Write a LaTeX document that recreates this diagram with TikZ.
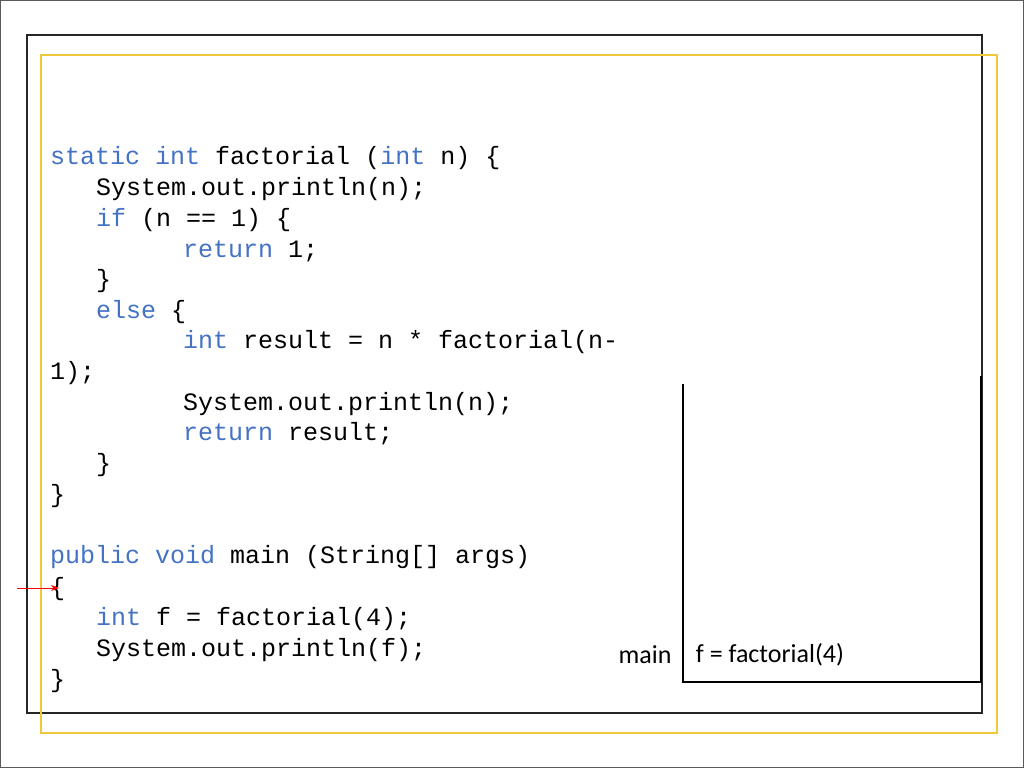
\documentclass[tikz,border=0pt]{standalone}
\usepackage{fontspec}
\setmonofont{Liberation Mono}
\newfontfamily\carlitofont{Carlito}
\usetikzlibrary{arrows.meta}
\definecolor{kw}{RGB}{68,114,196}
\definecolor{yel}{RGB}{240,200,60}
\begin{document}
\begin{tikzpicture}[x=1pt,y=-1pt,
  code/.style={anchor=west,inner sep=0pt,font=\ttfamily\fontsize{25}{30}\selectfont},
  lab/.style={anchor=center,inner sep=0pt,font=\carlitofont\fontsize{26}{30}\selectfont}]
\useasboundingbox (0,0) rectangle (1024,768);
\draw[gray!70!black,line width=1pt] (0.5,0.5) rectangle (1023.5,767.5);
\draw[black!85,line width=1.5pt] (27,35) rectangle (982,713);
\draw[yel,line width=1.5pt] (41,55) rectangle (997,733);
\newcommand\Kw[1]{\textcolor{kw}{#1}}
\node[code] (l1) at (50,158) {\Kw{static} \Kw{int} factorial (\Kw{int} n) \{};
\node[code] (l2) at (96,189) {System.out.println(n);};
\node[code] (l3) at (96,220) {\Kw{if} (n == 1) \{};
\node[code] (l4) at (183,251) {\Kw{return} 1;};
\node[code] (l5) at (96,281) {\}};
\node[code] (l6) at (96,312) {\Kw{else} \{};
\node[code] (l7) at (183,342) {\Kw{int} result = n * factorial(n-};
\node[code] (l8) at (50,373) {1);};
\node[code] (l9) at (183,404) {System.out.println(n);};
\node[code] (l10) at (183,434) {\Kw{return} result;};
\node[code] (l11) at (96,465) {\}};
\node[code] (l12) at (50,496) {\}};
\node[code] (l13) at (50,557) {\Kw{public} \Kw{void} main (String[] args)};
\node[code] (l14) at (50,589) {\{};
\node[code] (l15) at (96,619) {\Kw{int} f = factorial(4);};
\node[code] (l16) at (96,650) {System.out.println(f);};
\node[code] (l17) at (50,681) {\}};
\coordinate (a0) at (17,588);
\coordinate (a1) at (59,588);
\draw[red,line width=1pt,-{Stealth[length=8pt,width=6pt]}] (a0) -- (a1);
\coordinate (s1) at (683,384);
\coordinate (s2) at (683,682);
\coordinate (s3) at (981,682);
\coordinate (s4) at (981,376);
\draw[black,line width=1.5pt] (s1) -- (s2) -- (s3) -- (s4);
\node[lab] (m) at (645,655) {main};
\node[lab] (f) at (770,655) {f = factorial(4)};
\end{tikzpicture}
\end{document}
